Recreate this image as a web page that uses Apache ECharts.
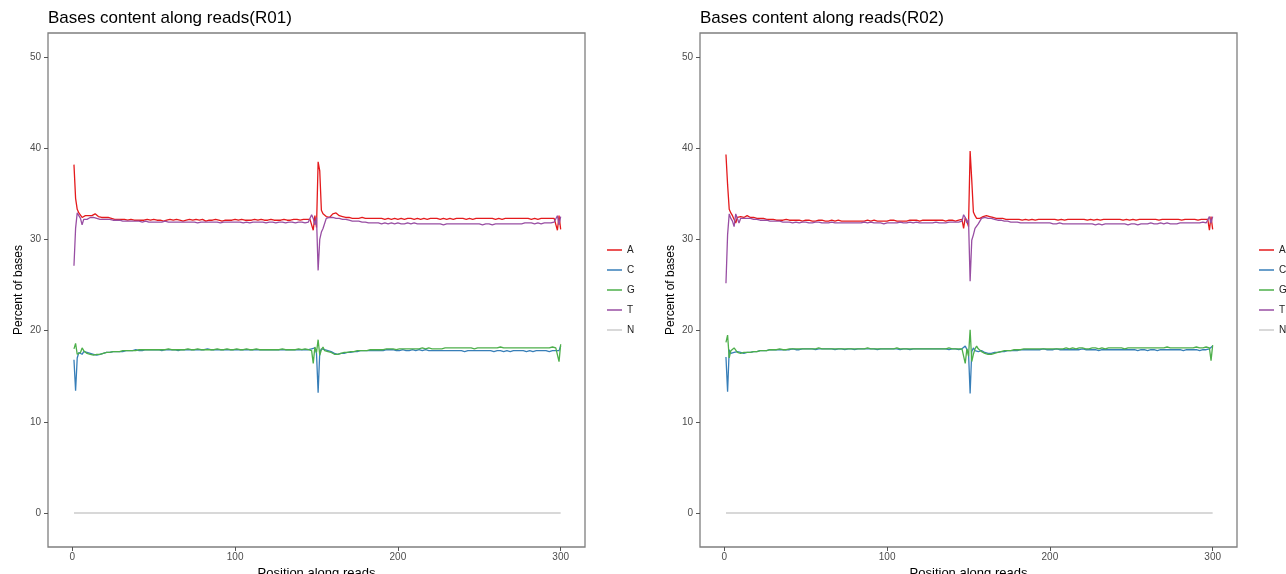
<!DOCTYPE html>
<html>
<head>
<meta charset="utf-8">
<title>Bases content along reads</title>
<script src="https://cdn.jsdelivr.net/npm/echarts@6.0.0/dist/echarts.min.js"></script>
<style>
  html, body { margin: 0; padding: 0; background: #fff; }
  #chart { width: 1286px; height: 574px; }
</style>
</head>
<body>
<div id="chart"></div>
<script>
// base order and colours as in the legend
var bases = ['A', 'C', 'G', 'T', 'N'];
var baseColors = ['#e41a1c', '#377eb8', '#4daf4a', '#984ea3', '#cccccc'];
var xTicks = [0, 100, 200, 300];
var yTicks = [0, 10, 20, 30, 40, 50];

// R01, percent of bases per position 1..300
var r01A = [
  38.2, 34.5, 33.3, 32.9, 32.7, 32.4, 32.4, 32.6, 32.5, 32.6, 32.7, 32.6, 32.7, 32.8, 32.6, 32.5, 32.5, 32.4, 32.4, 32.4, 32.3, 32.4, 32.3, 32.3, 32.3,
  32.2, 32.3, 32.2, 32.2, 32.2, 32.1, 32.2, 32.2, 32.1, 32.1, 32.2, 32.1, 32.1, 32.2, 32.1, 32.1, 32.1, 32.2, 32.1, 32.1, 32.2, 32.1, 32.1, 32.1, 32.2,
  32.1, 32.1, 32.2, 32.1, 32.1, 32.0, 32.1, 32.1, 32.1, 32.2, 32.1, 32.1, 32.1, 32.2, 32.2, 32.1, 32.1, 32.0, 32.1, 32.1, 32.1, 32.2, 32.1, 32.1, 32.1,
  32.2, 32.1, 32.1, 32.1, 32.2, 32.1, 32.0, 32.1, 32.1, 32.1, 32.1, 32.1, 32.2, 32.1, 32.1, 32.1, 32.0, 32.1, 32.1, 32.2, 32.1, 32.1, 32.1, 32.1, 32.2,
  32.1, 32.1, 32.1, 32.2, 32.1, 32.1, 32.2, 32.1, 32.1, 32.1, 32.1, 32.2, 32.1, 32.1, 32.1, 32.2, 32.1, 32.1, 32.2, 32.1, 32.1, 32.2, 32.1, 32.1, 32.2,
  32.1, 32.2, 32.1, 32.1, 32.2, 32.2, 32.1, 32.2, 32.1, 32.2, 32.2, 32.1, 32.2, 32.2, 32.1, 32.2, 32.2, 32.1, 32.2, 32.2, 32.2, 32.3, 31.0, 32.6, 31.3,
  38.5, 37.5, 33.2, 32.8, 32.6, 32.5, 32.4, 32.4, 32.6, 32.8, 32.9, 32.9, 32.8, 32.6, 32.5, 32.5, 32.4, 32.4, 32.3, 32.4, 32.3, 32.3, 32.4, 32.3, 32.3,
  32.3, 32.3, 32.4, 32.3, 32.3, 32.2, 32.3, 32.3, 32.3, 32.2, 32.3, 32.3, 32.3, 32.2, 32.3, 32.3, 32.2, 32.3, 32.3, 32.3, 32.2, 32.3, 32.3, 32.3, 32.2,
  32.3, 32.3, 32.3, 32.2, 32.3, 32.3, 32.2, 32.3, 32.3, 32.2, 32.3, 32.3, 32.3, 32.2, 32.3, 32.3, 32.3, 32.2, 32.3, 32.3, 32.2, 32.3, 32.3, 32.3, 32.3,
  32.2, 32.3, 32.3, 32.3, 32.2, 32.3, 32.3, 32.3, 32.2, 32.3, 32.3, 32.2, 32.3, 32.3, 32.3, 32.3, 32.2, 32.3, 32.3, 32.3, 32.2, 32.3, 32.3, 32.3, 32.3,
  32.2, 32.3, 32.3, 32.3, 32.2, 32.3, 32.3, 32.3, 32.3, 32.2, 32.3, 32.3, 32.3, 32.2, 32.3, 32.3, 32.3, 32.3, 32.2, 32.3, 32.3, 32.3, 32.2, 32.3, 32.3,
  32.3, 32.2, 32.3, 32.3, 32.3, 32.3, 32.2, 32.3, 32.3, 32.3, 32.2, 32.3, 32.3, 32.3, 32.3, 32.2, 32.3, 32.3, 32.3, 32.2, 32.3, 32.3, 31.0, 32.6, 31.1
];
var r01C = [
  16.8, 13.4, 17.0, 17.6, 17.6, 17.4, 17.7, 17.5, 17.6, 17.5, 17.5, 17.4, 17.4, 17.3, 17.3, 17.4, 17.4, 17.5, 17.5, 17.5, 17.6, 17.6, 17.6, 17.6, 17.7,
  17.7, 17.7, 17.7, 17.7, 17.8, 17.7, 17.8, 17.8, 17.8, 17.8, 17.8, 17.8, 17.8, 17.9, 17.8, 17.8, 17.9, 17.8, 17.9, 17.9, 17.8, 17.9, 17.9, 17.9, 17.9,
  17.9, 17.9, 17.9, 17.9, 17.8, 17.9, 17.9, 17.9, 17.9, 17.9, 17.9, 17.9, 17.9, 17.9, 17.8, 17.9, 17.9, 17.9, 17.9, 17.9, 17.9, 17.8, 17.9, 17.9, 17.9,
  17.9, 17.9, 17.9, 17.9, 17.9, 17.9, 17.9, 18.0, 17.9, 17.9, 17.9, 17.9, 17.9, 17.9, 17.9, 17.9, 17.9, 17.9, 17.9, 17.9, 18.0, 17.9, 17.9, 17.9, 17.9,
  17.9, 17.9, 17.9, 17.9, 17.9, 17.9, 17.9, 17.9, 17.9, 17.9, 17.9, 17.9, 17.9, 17.8, 17.9, 17.9, 17.9, 17.9, 17.9, 17.9, 17.9, 17.9, 17.9, 17.9, 17.9,
  17.9, 17.9, 17.9, 17.9, 17.9, 17.9, 17.8, 17.9, 17.9, 17.9, 17.9, 17.9, 17.9, 17.9, 17.9, 17.9, 17.9, 17.9, 17.9, 17.9, 17.9, 18.0, 18.2, 18.1, 17.5,
  13.2, 17.6, 18.0, 17.8, 17.9, 17.7, 17.8, 17.8, 17.7, 17.6, 17.5, 17.4, 17.4, 17.4, 17.5, 17.5, 17.5, 17.6, 17.6, 17.6, 17.6, 17.7, 17.7, 17.7, 17.7,
  17.7, 17.8, 17.7, 17.8, 17.8, 17.8, 17.8, 17.8, 17.8, 17.8, 17.9, 17.8, 17.8, 17.8, 17.9, 17.8, 17.8, 17.9, 17.8, 17.9, 17.8, 17.9, 17.8, 17.8, 17.9,
  17.8, 17.8, 17.9, 17.8, 17.8, 17.9, 17.8, 17.8, 17.9, 17.8, 17.8, 17.8, 17.9, 17.8, 17.8, 17.8, 17.9, 17.8, 17.8, 17.8, 17.8, 17.9, 17.8, 17.8, 17.8,
  17.8, 17.8, 17.9, 17.8, 17.8, 17.8, 17.8, 17.8, 17.7, 17.8, 17.8, 17.8, 17.8, 17.8, 17.8, 17.7, 17.8, 17.8, 17.8, 17.8, 17.8, 17.8, 17.7, 17.8, 17.8,
  17.8, 17.8, 17.8, 17.7, 17.8, 17.8, 17.8, 17.8, 17.7, 17.8, 17.8, 17.8, 17.8, 17.8, 17.7, 17.8, 17.8, 17.8, 17.7, 17.8, 17.8, 17.8, 17.8, 17.7, 17.8,
  17.8, 17.8, 17.8, 17.7, 17.8, 17.8, 17.8, 17.7, 17.8, 17.8, 17.8, 17.8, 17.7, 17.8, 17.8, 17.8, 17.8, 17.7, 17.8, 17.8, 17.8, 17.8, 17.9, 17.8, 18.3
];
var r01G = [
  18.0, 18.6, 17.4, 17.6, 17.6, 18.1, 17.8, 17.6, 17.5, 17.5, 17.4, 17.4, 17.3, 17.3, 17.4, 17.4, 17.4, 17.5, 17.5, 17.5, 17.6, 17.6, 17.6, 17.6, 17.7,
  17.6, 17.7, 17.7, 17.7, 17.7, 17.8, 17.7, 17.8, 17.8, 17.8, 17.8, 17.8, 17.9, 17.8, 17.8, 17.9, 17.8, 17.9, 17.9, 17.9, 17.8, 17.9, 17.9, 17.9, 17.9,
  17.9, 17.9, 17.9, 18.0, 17.9, 17.9, 17.9, 17.9, 18.0, 17.9, 17.9, 17.9, 17.9, 17.9, 17.9, 18.0, 17.9, 17.9, 17.9, 17.9, 18.0, 17.9, 17.9, 17.9, 17.9,
  17.9, 18.0, 17.9, 17.9, 17.9, 17.9, 17.9, 17.9, 18.0, 17.9, 17.9, 17.9, 17.9, 18.0, 17.9, 17.9, 17.9, 17.9, 17.9, 18.0, 17.9, 17.9, 17.9, 17.9, 17.9,
  18.0, 17.9, 17.9, 17.9, 17.9, 17.9, 18.0, 17.9, 17.9, 17.9, 17.9, 17.9, 18.0, 17.9, 17.9, 17.9, 17.9, 18.0, 17.9, 17.9, 17.9, 17.9, 17.9, 18.0, 17.9,
  17.9, 17.9, 17.9, 18.0, 17.9, 17.9, 17.9, 17.9, 18.0, 17.9, 17.9, 17.9, 17.9, 18.0, 17.9, 17.9, 17.9, 18.0, 17.9, 17.9, 17.9, 17.8, 16.4, 18.2, 17.6,
  19.0, 17.3, 17.9, 18.2, 17.8, 17.8, 17.7, 17.7, 17.6, 17.5, 17.4, 17.3, 17.4, 17.4, 17.5, 17.5, 17.6, 17.6, 17.6, 17.7, 17.7, 17.7, 17.7, 17.8, 17.8,
  17.8, 17.8, 17.8, 17.8, 17.9, 17.8, 17.9, 17.9, 17.9, 17.9, 17.9, 17.9, 17.9, 17.9, 18.0, 17.9, 17.9, 18.0, 17.9, 18.0, 17.9, 18.0, 18.0, 17.9, 18.0,
  18.0, 18.0, 18.0, 18.0, 18.0, 18.0, 18.0, 18.0, 18.0, 18.1, 18.0, 18.0, 18.0, 18.0, 18.1, 18.0, 18.0, 18.0, 18.1, 18.0, 18.0, 18.1, 18.0, 18.1, 18.0,
  18.1, 18.0, 18.1, 18.1, 18.0, 18.1, 18.1, 18.1, 18.0, 18.1, 18.1, 18.1, 18.1, 18.1, 18.0, 18.1, 18.1, 18.1, 18.1, 18.1, 18.1, 18.0, 18.1, 18.1, 18.1,
  18.1, 18.1, 18.1, 18.1, 18.1, 18.2, 18.1, 18.1, 18.1, 18.1, 18.1, 18.1, 18.2, 18.1, 18.1, 18.1, 18.1, 18.1, 18.1, 18.2, 18.1, 18.1, 18.1, 18.1, 18.1,
  18.1, 18.1, 18.2, 18.1, 18.1, 18.1, 18.1, 18.1, 18.2, 18.1, 18.1, 18.1, 18.1, 18.1, 18.2, 18.1, 18.1, 18.1, 18.1, 18.2, 18.1, 18.1, 18.2, 16.6, 18.5
];
var r01T = [
  27.1, 31.2, 32.9, 32.7, 32.3, 31.6, 32.2, 32.4, 32.2, 32.3, 32.4, 32.3, 32.4, 32.4, 32.3, 32.3, 32.2, 32.3, 32.2, 32.2, 32.2, 32.1, 32.2, 32.1, 32.1,
  32.1, 32.1, 32.0, 32.1, 32.0, 32.0, 32.1, 32.0, 32.0, 32.0, 31.9, 32.0, 32.0, 32.0, 31.9, 32.0, 32.0, 31.9, 32.0, 32.0, 31.9, 31.9, 32.0, 31.9, 31.9,
  31.9, 32.0, 31.9, 31.9, 31.9, 31.9, 32.0, 31.9, 31.9, 31.8, 31.9, 31.9, 31.9, 31.9, 31.9, 32.0, 31.9, 31.9, 31.9, 31.8, 31.9, 31.9, 31.9, 31.9, 31.9,
  31.9, 31.8, 31.9, 31.9, 31.9, 31.9, 31.8, 31.9, 31.9, 31.9, 31.8, 31.9, 31.9, 31.9, 31.9, 31.8, 31.9, 31.9, 31.8, 31.9, 31.9, 31.9, 31.8, 31.9, 31.9,
  31.9, 31.8, 31.9, 31.9, 31.8, 31.9, 31.9, 31.9, 31.8, 31.9, 31.9, 31.8, 31.9, 31.9, 31.9, 31.8, 31.9, 31.9, 31.8, 31.9, 31.9, 31.8, 31.9, 31.9, 31.8,
  31.9, 31.9, 31.8, 31.9, 31.9, 31.8, 31.9, 31.9, 31.8, 31.9, 31.9, 31.8, 31.9, 31.9, 31.8, 31.9, 31.9, 31.8, 31.9, 31.9, 31.9, 32.7, 32.3, 31.6, 32.4,
  26.6, 30.0, 30.8, 31.2, 31.3, 32.3, 32.3, 32.4, 32.3, 32.4, 32.4, 32.3, 32.3, 32.3, 32.2, 32.2, 32.2, 32.2, 32.1, 32.1, 32.1, 32.0, 32.0, 32.0, 32.0,
  32.0, 31.9, 31.9, 31.9, 31.9, 31.9, 31.8, 31.9, 31.8, 31.8, 31.8, 31.8, 31.8, 31.8, 31.7, 31.8, 31.8, 31.8, 31.7, 31.8, 31.8, 31.8, 31.7, 31.8, 31.8,
  31.8, 31.7, 31.8, 31.7, 31.7, 31.8, 31.7, 31.7, 31.7, 31.8, 31.7, 31.7, 31.7, 31.7, 31.8, 31.7, 31.7, 31.7, 31.7, 31.7, 31.6, 31.7, 31.7, 31.7, 31.7,
  31.7, 31.7, 31.6, 31.7, 31.7, 31.7, 31.7, 31.6, 31.7, 31.7, 31.7, 31.7, 31.7, 31.6, 31.7, 31.7, 31.7, 31.7, 31.7, 31.6, 31.7, 31.7, 31.7, 31.7, 31.7,
  31.7, 31.6, 31.7, 31.7, 31.7, 31.7, 31.7, 31.6, 31.7, 31.7, 31.7, 31.7, 31.7, 31.7, 31.8, 31.7, 31.7, 31.7, 31.7, 31.7, 31.8, 31.7, 31.7, 31.7, 31.8,
  31.7, 31.7, 31.8, 31.7, 31.8, 31.7, 31.8, 31.8, 31.7, 31.8, 31.8, 31.8, 31.7, 31.8, 31.8, 31.8, 31.8, 31.8, 31.8, 31.8, 31.9, 31.8, 32.6, 31.6, 32.5
];
var r01N = [
  0, 0, 0, 0, 0, 0, 0, 0, 0, 0, 0, 0, 0, 0, 0, 0, 0, 0, 0, 0, 0, 0, 0, 0, 0,
  0, 0, 0, 0, 0, 0, 0, 0, 0, 0, 0, 0, 0, 0, 0, 0, 0, 0, 0, 0, 0, 0, 0, 0, 0,
  0, 0, 0, 0, 0, 0, 0, 0, 0, 0, 0, 0, 0, 0, 0, 0, 0, 0, 0, 0, 0, 0, 0, 0, 0,
  0, 0, 0, 0, 0, 0, 0, 0, 0, 0, 0, 0, 0, 0, 0, 0, 0, 0, 0, 0, 0, 0, 0, 0, 0,
  0, 0, 0, 0, 0, 0, 0, 0, 0, 0, 0, 0, 0, 0, 0, 0, 0, 0, 0, 0, 0, 0, 0, 0, 0,
  0, 0, 0, 0, 0, 0, 0, 0, 0, 0, 0, 0, 0, 0, 0, 0, 0, 0, 0, 0, 0, 0, 0, 0, 0,
  0, 0, 0, 0, 0, 0, 0, 0, 0, 0, 0, 0, 0, 0, 0, 0, 0, 0, 0, 0, 0, 0, 0, 0, 0,
  0, 0, 0, 0, 0, 0, 0, 0, 0, 0, 0, 0, 0, 0, 0, 0, 0, 0, 0, 0, 0, 0, 0, 0, 0,
  0, 0, 0, 0, 0, 0, 0, 0, 0, 0, 0, 0, 0, 0, 0, 0, 0, 0, 0, 0, 0, 0, 0, 0, 0,
  0, 0, 0, 0, 0, 0, 0, 0, 0, 0, 0, 0, 0, 0, 0, 0, 0, 0, 0, 0, 0, 0, 0, 0, 0,
  0, 0, 0, 0, 0, 0, 0, 0, 0, 0, 0, 0, 0, 0, 0, 0, 0, 0, 0, 0, 0, 0, 0, 0, 0,
  0, 0, 0, 0, 0, 0, 0, 0, 0, 0, 0, 0, 0, 0, 0, 0, 0, 0, 0, 0, 0, 0, 0, 0, 0
];

// R02
var r02A = [
  39.3, 36.0, 33.3, 32.9, 32.6, 32.4, 31.8, 32.4, 32.6, 32.5, 32.6, 32.4, 32.5, 32.6, 32.5, 32.4, 32.4, 32.4, 32.3, 32.3, 32.3, 32.3, 32.2, 32.3, 32.2,
  32.2, 32.2, 32.2, 32.1, 32.2, 32.1, 32.1, 32.2, 32.1, 32.1, 32.1, 32.1, 32.2, 32.1, 32.1, 32.0, 32.1, 32.1, 32.1, 32.0, 32.1, 32.1, 32.0, 32.1, 32.1,
  32.0, 32.1, 32.1, 32.0, 32.1, 32.0, 32.0, 32.1, 32.0, 32.1, 32.0, 32.0, 32.1, 32.0, 32.0, 32.1, 32.0, 32.0, 32.0, 32.1, 32.0, 32.0, 32.1, 32.0, 32.0,
  32.0, 32.1, 32.0, 32.0, 32.0, 32.1, 32.0, 32.0, 32.0, 32.1, 32.0, 32.0, 32.1, 32.0, 32.0, 32.0, 32.1, 32.0, 32.0, 32.1, 32.0, 32.0, 32.0, 32.1, 32.0,
  32.0, 32.1, 32.0, 32.1, 32.0, 32.0, 32.1, 32.0, 32.1, 32.0, 32.1, 32.0, 32.1, 32.1, 32.0, 32.1, 32.0, 32.1, 32.1, 32.0, 32.1, 32.1, 32.0, 32.1, 32.1,
  32.1, 32.0, 32.1, 32.1, 32.1, 32.0, 32.1, 32.1, 32.1, 32.1, 32.0, 32.1, 32.1, 32.1, 32.1, 32.1, 32.0, 32.1, 32.1, 32.1, 32.2, 31.2, 32.4, 32.0, 31.4,
  39.7, 36.5, 33.0, 32.6, 32.3, 32.2, 32.3, 32.4, 32.5, 32.6, 32.6, 32.6, 32.5, 32.4, 32.4, 32.3, 32.3, 32.3, 32.3, 32.2, 32.3, 32.2, 32.2, 32.3, 32.2,
  32.2, 32.2, 32.3, 32.2, 32.2, 32.2, 32.2, 32.1, 32.2, 32.2, 32.2, 32.1, 32.2, 32.2, 32.2, 32.1, 32.2, 32.2, 32.1, 32.2, 32.2, 32.2, 32.1, 32.2, 32.2,
  32.2, 32.1, 32.2, 32.2, 32.1, 32.2, 32.2, 32.2, 32.1, 32.2, 32.2, 32.1, 32.2, 32.2, 32.2, 32.1, 32.2, 32.2, 32.2, 32.1, 32.2, 32.2, 32.1, 32.2, 32.2,
  32.2, 32.1, 32.2, 32.2, 32.2, 32.1, 32.2, 32.2, 32.2, 32.2, 32.1, 32.2, 32.2, 32.2, 32.1, 32.2, 32.2, 32.2, 32.2, 32.1, 32.2, 32.2, 32.2, 32.1, 32.2,
  32.2, 32.2, 32.1, 32.2, 32.2, 32.2, 32.2, 32.1, 32.2, 32.2, 32.2, 32.1, 32.2, 32.2, 32.2, 32.2, 32.1, 32.2, 32.2, 32.2, 32.2, 32.1, 32.2, 32.2, 32.2,
  32.1, 32.2, 32.2, 32.2, 32.2, 32.1, 32.2, 32.2, 32.2, 32.2, 32.1, 32.2, 32.2, 32.2, 32.2, 32.1, 32.2, 32.2, 32.2, 32.2, 32.1, 32.2, 31.0, 32.5, 31.1
];
var r02C = [
  17.1, 13.3, 17.9, 17.5, 17.7, 17.6, 17.5, 17.7, 17.6, 17.6, 17.6, 17.5, 17.5, 17.6, 17.6, 17.6, 17.6, 17.7, 17.7, 17.7, 17.7, 17.8, 17.8, 17.8, 17.8,
  17.8, 17.8, 17.9, 17.8, 17.9, 17.9, 17.9, 17.9, 17.9, 17.9, 17.9, 17.9, 17.9, 18.0, 17.9, 17.9, 18.0, 17.9, 17.9, 18.0, 17.9, 17.9, 18.0, 17.9, 18.0,
  17.9, 18.0, 17.9, 18.0, 18.0, 17.9, 18.0, 18.0, 17.9, 18.0, 18.0, 18.0, 17.9, 18.0, 18.0, 18.0, 18.0, 17.9, 18.0, 18.0, 18.0, 18.0, 18.0, 17.9, 18.0,
  18.0, 18.0, 18.0, 18.0, 17.9, 18.0, 18.0, 18.0, 18.0, 18.0, 18.0, 17.9, 18.0, 18.0, 18.0, 18.0, 18.0, 18.0, 17.9, 18.0, 18.0, 18.0, 18.0, 18.0, 18.0,
  17.9, 18.0, 18.0, 18.0, 18.0, 18.0, 18.0, 17.9, 18.0, 18.0, 18.0, 18.0, 18.0, 17.9, 18.0, 18.0, 18.0, 18.0, 18.0, 18.0, 17.9, 18.0, 18.0, 18.0, 18.0,
  18.0, 17.9, 18.0, 18.0, 18.0, 18.0, 18.0, 17.9, 18.0, 18.0, 18.0, 18.0, 17.9, 18.0, 18.0, 18.0, 18.0, 18.0, 17.9, 18.0, 18.0, 18.1, 18.3, 18.1, 17.6,
  13.1, 17.7, 18.1, 17.8, 17.9, 17.7, 17.7, 17.8, 17.7, 17.6, 17.5, 17.5, 17.5, 17.5, 17.5, 17.6, 17.6, 17.6, 17.7, 17.7, 17.7, 17.7, 17.8, 17.8, 17.8,
  17.8, 17.8, 17.8, 17.9, 17.8, 17.9, 17.9, 17.9, 17.9, 17.9, 17.9, 17.9, 17.9, 17.9, 17.9, 18.0, 17.9, 17.9, 17.9, 17.9, 18.0, 17.9, 17.9, 17.9, 17.9,
  17.9, 17.9, 17.9, 18.0, 17.9, 17.9, 17.9, 17.9, 17.9, 17.9, 18.0, 17.9, 17.9, 17.9, 17.9, 17.9, 17.9, 17.9, 17.9, 18.0, 17.9, 17.9, 17.9, 17.9, 17.9,
  17.9, 17.9, 17.9, 17.9, 17.8, 17.9, 17.9, 17.9, 17.9, 17.9, 17.9, 17.9, 17.9, 17.8, 17.9, 17.9, 17.9, 17.9, 17.9, 17.9, 17.9, 17.8, 17.9, 17.9, 17.9,
  17.9, 17.9, 17.9, 17.8, 17.9, 17.9, 17.9, 17.9, 17.9, 17.8, 17.9, 17.9, 17.9, 17.9, 17.9, 17.8, 17.9, 17.9, 17.9, 17.9, 17.8, 17.9, 17.9, 17.9, 17.9,
  17.9, 17.8, 17.9, 17.9, 17.9, 17.9, 17.8, 17.9, 17.9, 17.9, 17.9, 17.8, 17.9, 17.9, 17.9, 17.9, 17.8, 17.9, 17.9, 17.9, 17.9, 17.9, 18.0, 17.9, 18.3
];
var r02G = [
  18.7, 19.5, 17.0, 17.8, 17.6, 18.1, 18.2, 17.6, 17.4, 17.5, 17.6, 17.6, 17.5, 17.6, 17.6, 17.6, 17.7, 17.7, 17.7, 17.7, 17.8, 17.8, 17.8, 17.8, 17.8,
  17.8, 17.9, 17.9, 17.9, 17.9, 17.9, 17.9, 17.9, 18.0, 17.9, 17.9, 18.0, 17.9, 18.0, 18.0, 17.9, 18.0, 18.0, 18.0, 17.9, 18.0, 18.0, 18.0, 18.0, 18.0,
  18.0, 18.0, 18.0, 18.0, 18.0, 18.0, 18.0, 18.1, 18.0, 18.0, 18.0, 18.0, 18.0, 18.0, 18.0, 18.0, 18.1, 18.0, 18.0, 18.0, 18.0, 18.0, 18.0, 18.0, 18.0,
  18.0, 18.0, 18.0, 18.1, 18.0, 18.0, 18.0, 18.0, 18.0, 18.0, 18.0, 18.0, 18.1, 18.0, 18.0, 18.0, 18.0, 18.0, 18.0, 18.0, 18.0, 18.1, 18.0, 18.0, 18.0,
  18.0, 18.0, 18.0, 18.0, 18.0, 18.1, 18.0, 18.0, 18.0, 18.0, 18.0, 18.0, 18.0, 18.0, 18.1, 18.0, 18.0, 18.0, 18.0, 18.0, 18.0, 18.0, 18.1, 18.0, 18.0,
  18.0, 18.0, 18.0, 18.0, 18.0, 18.1, 18.0, 18.0, 18.0, 18.0, 18.0, 18.0, 18.1, 18.0, 18.0, 18.0, 18.0, 18.0, 18.0, 18.0, 18.0, 17.9, 16.4, 18.0, 17.2,
  20.1, 16.6, 17.4, 18.0, 18.3, 18.0, 17.8, 17.7, 17.6, 17.5, 17.4, 17.4, 17.3, 17.4, 17.5, 17.5, 17.6, 17.6, 17.7, 17.7, 17.7, 17.8, 17.8, 17.8, 17.8,
  17.8, 17.9, 17.9, 17.9, 17.9, 17.9, 17.9, 17.9, 18.0, 17.9, 18.0, 18.0, 18.0, 18.0, 18.0, 18.0, 18.0, 18.0, 18.0, 18.0, 18.0, 18.0, 18.0, 18.0, 18.0,
  18.0, 18.0, 18.0, 18.0, 18.1, 18.0, 18.0, 18.0, 18.0, 18.1, 18.0, 18.0, 18.0, 18.1, 18.0, 18.0, 18.0, 18.1, 18.0, 18.1, 18.0, 18.0, 18.1, 18.0, 18.1,
  18.1, 18.0, 18.1, 18.1, 18.0, 18.1, 18.1, 18.1, 18.0, 18.1, 18.1, 18.1, 18.1, 18.0, 18.1, 18.1, 18.1, 18.1, 18.1, 18.1, 18.0, 18.1, 18.1, 18.1, 18.1,
  18.1, 18.1, 18.1, 18.1, 18.1, 18.1, 18.2, 18.1, 18.1, 18.1, 18.1, 18.1, 18.1, 18.1, 18.2, 18.1, 18.1, 18.1, 18.1, 18.1, 18.1, 18.2, 18.1, 18.1, 18.1,
  18.1, 18.1, 18.1, 18.2, 18.1, 18.1, 18.1, 18.1, 18.1, 18.2, 18.1, 18.1, 18.1, 18.1, 18.2, 18.1, 18.1, 18.1, 18.1, 18.1, 18.2, 18.1, 18.1, 16.7, 18.4
];
var r02T = [
  25.2, 30.5, 32.8, 32.3, 32.0, 31.4, 32.8, 32.3, 31.8, 32.3, 32.4, 32.3, 32.4, 32.3, 32.3, 32.3, 32.2, 32.2, 32.2, 32.2, 32.1, 32.1, 32.1, 32.1, 32.1,
  32.1, 32.0, 32.0, 32.0, 32.0, 32.0, 32.0, 31.9, 32.0, 31.9, 31.9, 32.0, 31.9, 31.9, 31.9, 31.9, 31.8, 31.9, 31.9, 31.9, 31.8, 31.9, 31.9, 31.8, 31.9,
  31.9, 31.8, 31.9, 31.8, 31.9, 31.9, 31.8, 31.9, 31.8, 31.8, 31.9, 31.8, 31.9, 31.8, 31.8, 31.9, 31.8, 31.8, 31.9, 31.8, 31.8, 31.8, 31.9, 31.8, 31.8,
  31.8, 31.9, 31.8, 31.8, 31.8, 31.9, 31.8, 31.8, 31.8, 31.8, 31.9, 31.8, 31.8, 31.8, 31.9, 31.8, 31.8, 31.8, 31.8, 31.9, 31.8, 31.8, 31.7, 31.8, 31.8,
  31.8, 31.8, 31.9, 31.8, 31.8, 31.8, 31.8, 31.9, 31.8, 31.8, 31.8, 31.8, 31.8, 31.9, 31.8, 31.8, 31.8, 31.9, 31.8, 31.8, 31.8, 31.8, 31.9, 31.8, 31.8,
  31.8, 31.9, 31.8, 31.8, 31.9, 31.8, 31.8, 31.9, 31.8, 31.9, 31.8, 31.9, 31.9, 31.8, 31.9, 31.9, 31.9, 31.9, 31.9, 31.9, 32.0, 32.7, 32.4, 31.8, 32.2,
  25.4, 29.9, 30.5, 31.2, 31.3, 31.7, 31.8, 32.3, 32.4, 32.4, 32.4, 32.3, 32.3, 32.3, 32.2, 32.2, 32.2, 32.1, 32.1, 32.1, 32.0, 32.0, 32.0, 32.0, 32.0,
  31.9, 32.0, 31.9, 31.9, 31.9, 31.9, 31.8, 31.9, 31.8, 31.8, 31.8, 31.8, 31.8, 31.8, 31.8, 31.7, 31.8, 31.8, 31.8, 31.7, 31.8, 31.8, 31.8, 31.7, 31.8,
  31.8, 31.7, 31.8, 31.7, 31.7, 31.8, 31.7, 31.7, 31.7, 31.7, 31.8, 31.7, 31.7, 31.7, 31.7, 31.7, 31.6, 31.7, 31.7, 31.7, 31.7, 31.7, 31.6, 31.7, 31.7,
  31.7, 31.7, 31.6, 31.7, 31.7, 31.7, 31.6, 31.7, 31.7, 31.7, 31.7, 31.6, 31.7, 31.7, 31.7, 31.7, 31.7, 31.6, 31.7, 31.7, 31.7, 31.7, 31.6, 31.7, 31.7,
  31.7, 31.7, 31.7, 31.6, 31.7, 31.7, 31.7, 31.7, 31.7, 31.7, 31.7, 31.8, 31.7, 31.7, 31.7, 31.7, 31.7, 31.8, 31.7, 31.7, 31.7, 31.8, 31.7, 31.7, 31.8,
  31.7, 31.8, 31.7, 31.8, 31.8, 31.7, 31.8, 31.8, 31.8, 31.7, 31.8, 31.8, 31.8, 31.8, 31.8, 31.8, 31.8, 31.8, 31.9, 31.8, 31.8, 31.9, 32.5, 31.8, 32.5
];
var r02N = [
  0, 0, 0, 0, 0, 0, 0, 0, 0, 0, 0, 0, 0, 0, 0, 0, 0, 0, 0, 0, 0, 0, 0, 0, 0,
  0, 0, 0, 0, 0, 0, 0, 0, 0, 0, 0, 0, 0, 0, 0, 0, 0, 0, 0, 0, 0, 0, 0, 0, 0,
  0, 0, 0, 0, 0, 0, 0, 0, 0, 0, 0, 0, 0, 0, 0, 0, 0, 0, 0, 0, 0, 0, 0, 0, 0,
  0, 0, 0, 0, 0, 0, 0, 0, 0, 0, 0, 0, 0, 0, 0, 0, 0, 0, 0, 0, 0, 0, 0, 0, 0,
  0, 0, 0, 0, 0, 0, 0, 0, 0, 0, 0, 0, 0, 0, 0, 0, 0, 0, 0, 0, 0, 0, 0, 0, 0,
  0, 0, 0, 0, 0, 0, 0, 0, 0, 0, 0, 0, 0, 0, 0, 0, 0, 0, 0, 0, 0, 0, 0, 0, 0,
  0, 0, 0, 0, 0, 0, 0, 0, 0, 0, 0, 0, 0, 0, 0, 0, 0, 0, 0, 0, 0, 0, 0, 0, 0,
  0, 0, 0, 0, 0, 0, 0, 0, 0, 0, 0, 0, 0, 0, 0, 0, 0, 0, 0, 0, 0, 0, 0, 0, 0,
  0, 0, 0, 0, 0, 0, 0, 0, 0, 0, 0, 0, 0, 0, 0, 0, 0, 0, 0, 0, 0, 0, 0, 0, 0,
  0, 0, 0, 0, 0, 0, 0, 0, 0, 0, 0, 0, 0, 0, 0, 0, 0, 0, 0, 0, 0, 0, 0, 0, 0,
  0, 0, 0, 0, 0, 0, 0, 0, 0, 0, 0, 0, 0, 0, 0, 0, 0, 0, 0, 0, 0, 0, 0, 0, 0,
  0, 0, 0, 0, 0, 0, 0, 0, 0, 0, 0, 0, 0, 0, 0, 0, 0, 0, 0, 0, 0, 0, 0, 0, 0
];

var samples = ['R01', 'R02'];
var sampleData = [
  [r01A, r01C, r01G, r01T, r01N],
  [r02A, r02C, r02G, r02T, r02N]
];

var myChart = echarts.init(document.getElementById('chart'));
var font = '"Liberation Sans", Arial, sans-serif';
var panelLeft = [48, 700];
var panelWidth = 537;

// value array -> [position, percent], position starts at 1
function toPoints(arr) {
    return arr.map(function (v, i) { return [i + 1, v]; });
}

var titles = [], grids = [], xAxes = [], yAxes = [], legends = [], series = [];
samples.forEach(function (s, k) {
    titles.push({
        text: 'Bases content along reads(' + s + ')',
        left: panelLeft[k], top: 10, padding: 0,
        textStyle: { fontFamily: font, fontSize: 17, fontWeight: 'normal', color: '#000' }
    });
    // outerBoundsMode none: keep the panel size, the x title may run off the bottom
    grids.push({
        left: panelLeft[k], top: 33, width: panelWidth, height: 514,
        outerBoundsMode: 'none', containLabel: false,
        show: true, borderColor: '#7f7f7f', borderWidth: 1.3, backgroundColor: '#fff'
    });
    xAxes.push({
        type: 'value', gridIndex: k, min: -14.95, max: 314.95,
        name: 'Position along reads', nameLocation: 'middle', nameGap: 16,
        nameTextStyle: { fontFamily: font, fontSize: 13, color: '#000' },
        axisLine: { show: false, onZero: false },
        axisTick: { show: true, length: 4, customValues: xTicks, lineStyle: { color: '#555' } },
        axisLabel: { customValues: xTicks, margin: 5, fontFamily: font, fontSize: 10, color: '#4d4d4d' },
        splitLine: { show: false }
    });
    yAxes.push({
        type: 'value', gridIndex: k, min: -3.73, max: 52.63,
        name: 'Percent of bases', nameLocation: 'middle', nameGap: 23,
        nameTextStyle: { fontFamily: font, fontSize: 12, color: '#000' },
        axisLine: { show: false, onZero: false },
        axisTick: { show: true, length: 4, customValues: yTicks, lineStyle: { color: '#555' } },
        axisLabel: { customValues: yTicks, margin: 7, fontFamily: font, fontSize: 10, color: '#4d4d4d' },
        splitLine: { show: false }
    });
    legends.push({
        data: bases, orient: 'vertical', icon: 'rect', padding: 0,
        left: panelLeft[k] + panelWidth + 22, top: 245,
        itemWidth: 15, itemHeight: 1.5, itemGap: 10,
        textStyle: { fontFamily: font, fontSize: 10, color: '#222' }
    });
    bases.forEach(function (b, j) {
        series.push({
            name: b, type: 'line', xAxisIndex: k, yAxisIndex: k,
            data: toPoints(sampleData[k][j]),
            symbol: 'none', showSymbol: false,
            lineStyle: { width: 1.3, color: baseColors[j] },
            itemStyle: { color: baseColors[j] },
            z: 2 + j
        });
    });
});

myChart.setOption({
    animation: false,
    backgroundColor: '#fff',
    title: titles,
    grid: grids,
    xAxis: xAxes,
    yAxis: yAxes,
    legend: legends,
    series: series
});
</script>
</body>
</html>
